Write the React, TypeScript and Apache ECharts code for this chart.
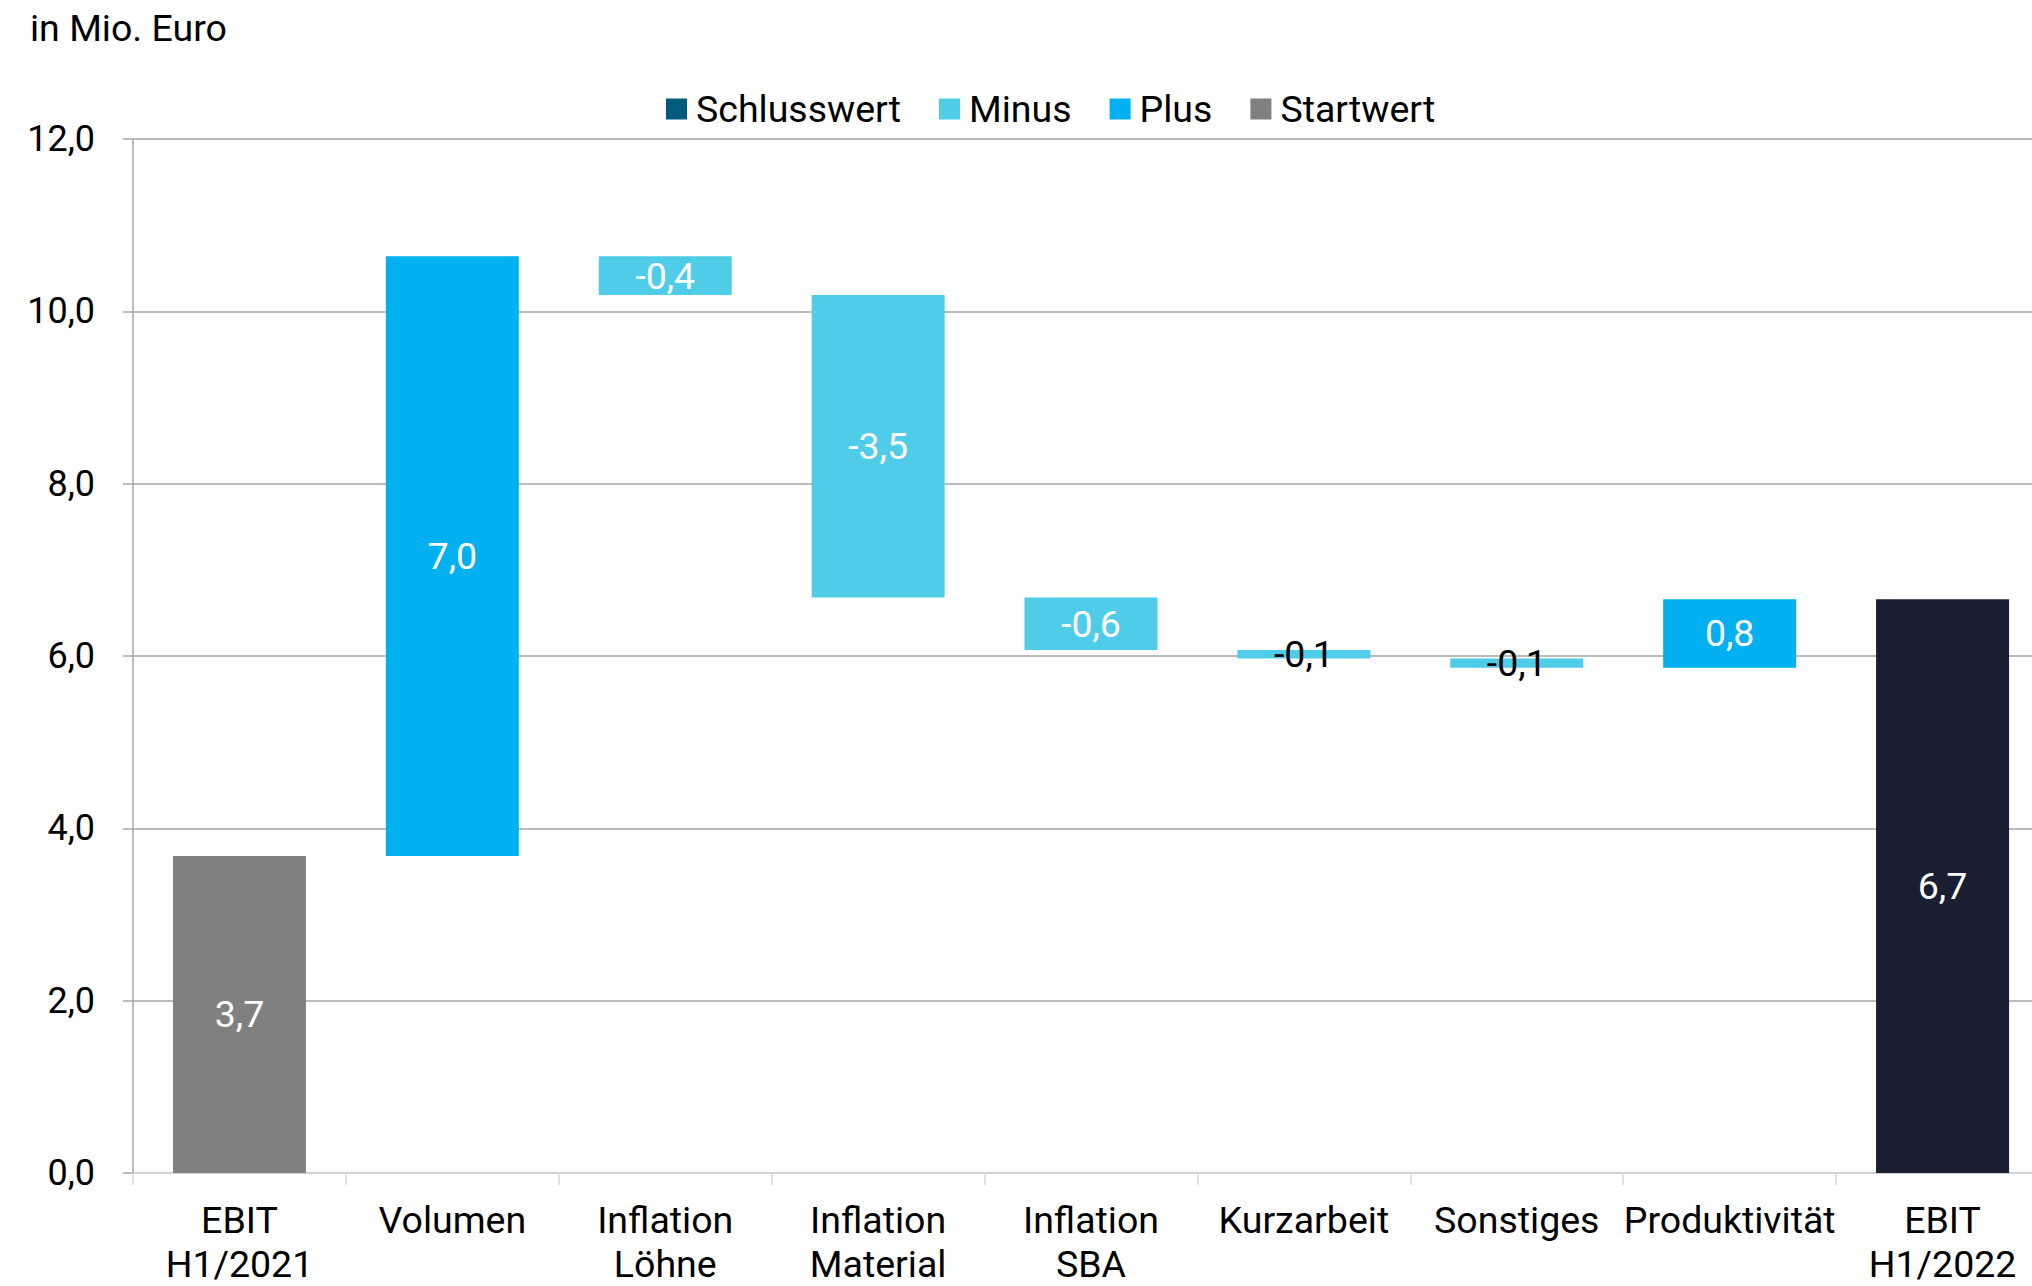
import React, { useEffect, useRef } from "react";
import * as echarts from "echarts";

const categories = [
  "EBIT\nH1/2021",
  "Volumen",
  "Inflation\nLöhne",
  "Inflation\nMaterial",
  "Inflation\nSBA",
  "Kurzarbeit",
  "Sonstiges",
  "Produktivität",
  "EBIT\nH1/2022",
];

// invisible offset under each floating bar
const baseValues = [0, 3.68, 10.19, 6.68, 6.07, 5.97, 5.865, 5.865, 0];
// visible bar heights per type ('-' = no bar)
const startValues: (number | string)[] = [3.68, "-", "-", "-", "-", "-", "-", "-", "-"];
const plusValues: (number | string)[] = ["-", 6.96, "-", "-", "-", "-", "-", 0.795, "-"];
const minusValues: (number | string)[] = ["-", "-", 0.45, 3.51, 0.61, 0.1, 0.105, "-", "-"];
const endValues: (number | string)[] = ["-", "-", "-", "-", "-", "-", "-", "-", 6.66];

const valueLabels = ["3,7", "7,0", "-0,4", "-3,5", "-0,6", "-0,1", "-0,1", "0,8", "6,7"];
const labelColors = ["#fff", "#fff", "#fff", "#fff", "#fff", "#000", "#000", "#fff", "#fff"];

const yTicks = [0, 2, 4, 6, 8, 10, 12];

const FONT = "Roboto";

export default function App() {
  const ref = useRef<HTMLDivElement>(null);

  useEffect(() => {
    if (!ref.current) return;
    const chart = echarts.init(ref.current, null, { renderer: "svg" });

    const label = {
      show: true,
      position: "inside",
      fontFamily: FONT,
      fontSize: 37.5,
      formatter: (p: any) => valueLabels[p.dataIndex],
      color: "#fff",
    };
    const mkData = (arr: (number | string)[]) =>
      arr.map((v, i) => ({
        value: v,
        label: { color: labelColors[i] },
      }));

    const option: any = {
      animation: false,
      backgroundColor: "#fff",
      title: {
        text: "in Mio. Euro",
        left: 30,
        top: 9,
        padding: 0,
        textStyle: { fontFamily: FONT, fontSize: 37.5, fontWeight: "normal", color: "#000" },
      },
      legend: {
        data: ["Schlusswert", "Minus", "Plus", "Startwert"],
        left: 666,
        top: 90,
        padding: 0,
        itemWidth: 21,
        itemHeight: 21,
        itemGap: 38,
        icon: "rect",
        selectedMode: false,
        textStyle: {
          fontFamily: FONT,
          fontSize: 37.5,
          lineHeight: 38,
          color: "#000",
          padding: [0, 0, 0, 4],
        },
      },
      grid: {
        left: 133,
        right: 0,
        top: 139,
        bottom: 108,
        containLabel: false,
      },
      xAxis: {
        type: "category",
        data: categories,
        axisLine: { show: true, lineStyle: { color: "#d9d9d9", width: 1.5 } },
        axisTick: { show: true, length: 12, lineStyle: { color: "#d9d9d9", width: 1.5 } },
        axisLabel: {
          fontFamily: FONT,
          fontSize: 37.5,
          lineHeight: 44,
          color: "#000",
          margin: 25,
          interval: 0,
        },
      },
      yAxis: {
        type: "value",
        min: yTicks[0],
        max: yTicks[yTicks.length - 1],
        interval: 2,
        axisLine: { show: true, lineStyle: { color: "#a6a6a6", width: 1.5 } },
        axisTick: { show: true, length: 10, lineStyle: { color: "#a6a6a6", width: 1.5 } },
        splitLine: { show: true, lineStyle: { color: "#a6a6a6", width: 1.5 } },
        axisLabel: {
          fontFamily: FONT,
          fontSize: 36,
          color: "#000",
          margin: 38,
          formatter: (v: number) => v.toFixed(1).replace(".", ","),
        },
      },
      series: [
        {
          name: "Basis",
          type: "bar",
          stack: "w",
          barWidth: 133,
          data: baseValues,
          itemStyle: { color: "transparent" },
          silent: true,
        },
        {
          name: "Startwert",
          type: "bar",
          stack: "w",
          barWidth: 133,
          data: mkData(startValues),
          itemStyle: { color: "#808080" },
          label,
        },
        {
          name: "Plus",
          type: "bar",
          stack: "w",
          barWidth: 133,
          data: mkData(plusValues),
          itemStyle: { color: "#00B0F0" },
          label,
        },
        {
          name: "Minus",
          type: "bar",
          stack: "w",
          barWidth: 133,
          data: mkData(minusValues),
          itemStyle: { color: "#4FCCE8" },
          label,
        },
        {
          name: "Schlusswert",
          type: "bar",
          stack: "w",
          barWidth: 133,
          data: endValues.map((v, i) => ({
            value: v,
            itemStyle: { color: "#1A1E33" },
            label: { color: labelColors[i] },
          })),
          itemStyle: { color: "#005A7C" },
          label,
        },
      ],
    };

    chart.setOption(option);
    return () => chart.dispose();
  }, []);

  return (
    <div style={{ position: "fixed", left: 0, top: 0, width: 2032, height: 1286, overflow: "hidden", background: "#fff" }}>
      <div ref={ref} style={{ position: "absolute", left: 0, top: 0, width: 2049, height: 1286 }} />
    </div>
  );
}
